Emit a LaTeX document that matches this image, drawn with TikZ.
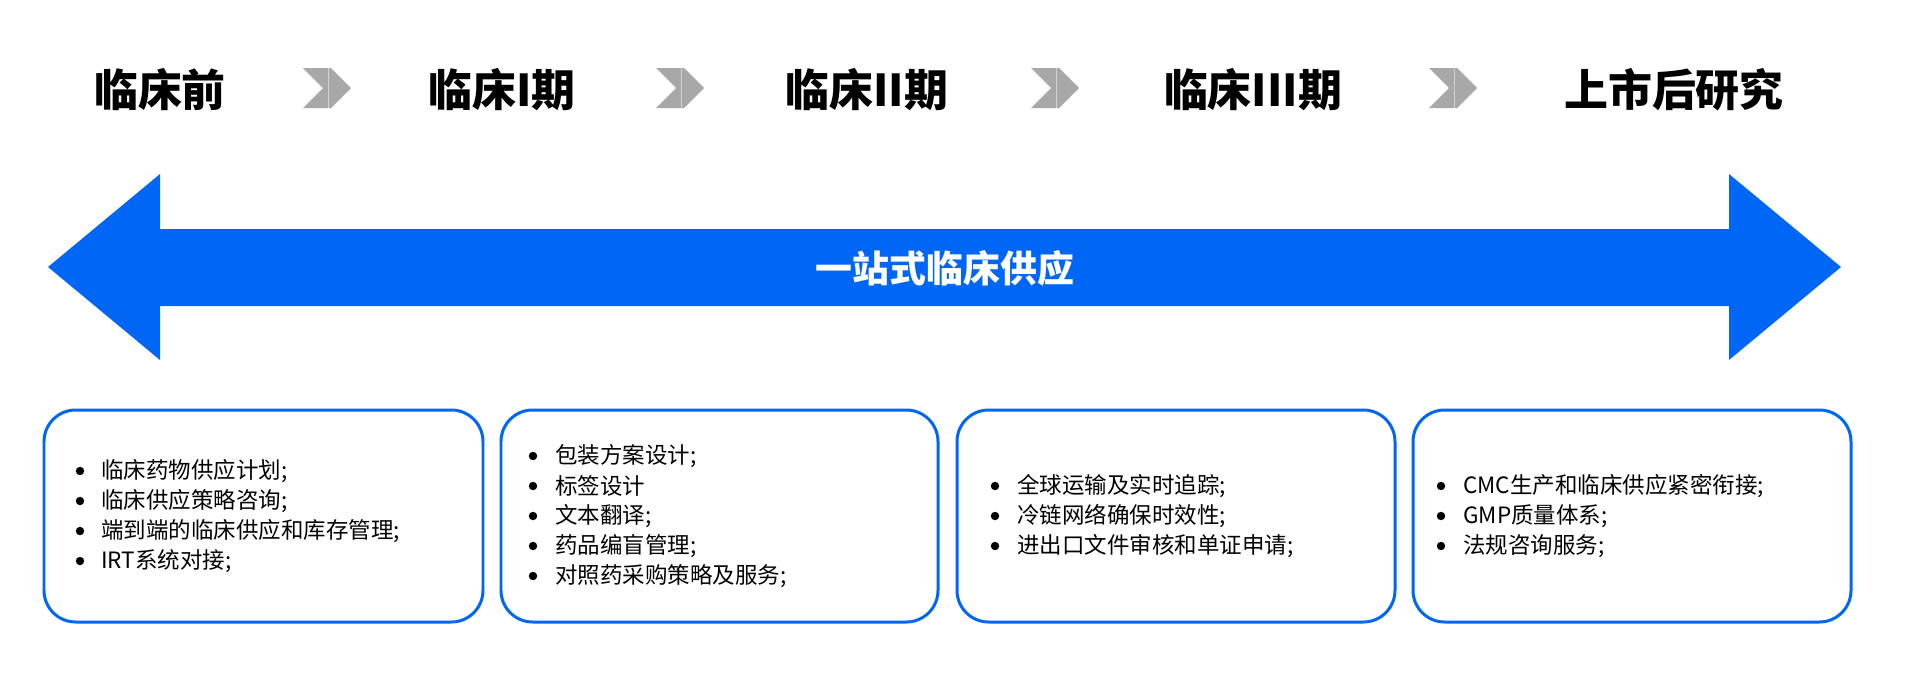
\documentclass[tikz,border=0pt]{standalone}
\usepackage{fontspec}
\setmainfont{Noto Sans CJK SC}
\usetikzlibrary{arrows}
\definecolor{mainblue}{RGB}{0,102,245}
\definecolor{chevgray}{RGB}{168,168,168}

\begin{document}
\begin{tikzpicture}[line cap=round,line join=round,x=0.02cm,y=-0.02cm,
  stage/.style={inner sep=0pt,font=\bfseries\fontsize{25}{30}\selectfont},
  item/.style={anchor=west,inner sep=0pt,font=\fontsize{12.8}{15}\selectfont},
  card/.style={draw=mainblue,line width=1.7pt,rounded corners=18pt},
  chevron/.style={fill=chevgray}]

\useasboundingbox (0,0) rectangle (1920,680);

\node[stage] (pre) at (160,90) {临床前};
\node[stage] (ph1) at (502,90) {临床I期};
\node[stage] (ph2) at (867,90) {临床II期};
\node[stage] (ph3) at (1253,90) {临床III期};
\node[stage] (post) at (1674,90) {上市后研究};

\fill[chevron] (303,68) -- (331,68) -- (351,88) -- (331,108) -- (303,108) -- (323,88) -- cycle;
\fill[chevron] (656,68) -- (684,68) -- (704,88) -- (684,108) -- (656,108) -- (676,88) -- cycle;
\fill[chevron] (1031,68) -- (1059,68) -- (1079,88) -- (1059,108) -- (1031,108) -- (1051,88) -- cycle;
\fill[chevron] (1429,68) -- (1457,68) -- (1477,88) -- (1457,108) -- (1429,108) -- (1449,88) -- cycle;
\draw[white,opacity=0.5,line width=0.4pt] (328,68) -- (328,108) (681,68) -- (681,108) (1056,68) -- (1056,108) (1454,68) -- (1454,108);

\fill[mainblue] (48,267) -- (160,174) -- (160,229) -- (1729,229) -- (1729,174) -- (1841,267) -- (1729,360) -- (1729,306) -- (160,306) -- (160,360) -- cycle;
\node[text=white,font=\bfseries\fontsize{21}{25}\selectfont] (supply) at (945,268) {一站式临床供应};

\draw[card] (44,410) rectangle (483,622);
\draw[card] (501,410) rectangle (938,622);
\draw[card] (957,410) rectangle (1395,622);
\draw[card] (1413,410) rectangle (1851,622);

\node[item] (a1) at (101,471) {临床药物供应计划;};
\node[item] (a2) at (101,501) {临床供应策略咨询;};
\node[item] (a3) at (101,531) {端到端的临床供应和库存管理;};
\node[item] (a4) at (101,561) {IRT系统对接;};
\node[item] (b1) at (555,456) {包装方案设计;};
\node[item] (b2) at (555,486) {标签设计};
\node[item] (b3) at (555,516) {文本翻译;};
\node[item] (b4) at (555,546) {药品编盲管理;};
\node[item] (b5) at (555,576) {对照药采购策略及服务;};
\node[item] (c1) at (1017,486) {全球运输及实时追踪;};
\node[item] (c2) at (1017,516) {冷链网络确保时效性;};
\node[item] (c3) at (1017,546) {进出口文件审核和单证申请;};
\node[item] (d1) at (1463,486) {CMC生产和临床供应紧密衔接;};
\node[item] (d2) at (1463,516) {GMP质量体系;};
\node[item] (d3) at (1463,546) {法规咨询服务;};

\fill (80,471) circle (2.4pt);
\fill (80,501) circle (2.4pt);
\fill (80,531) circle (2.4pt);
\fill (80,561) circle (2.4pt);
\fill (533,456) circle (2.4pt);
\fill (533,486) circle (2.4pt);
\fill (533,516) circle (2.4pt);
\fill (533,546) circle (2.4pt);
\fill (533,576) circle (2.4pt);
\fill (995,486) circle (2.4pt);
\fill (995,516) circle (2.4pt);
\fill (995,546) circle (2.4pt);
\fill (1441,486) circle (2.4pt);
\fill (1441,516) circle (2.4pt);
\fill (1441,546) circle (2.4pt);
\end{tikzpicture}
\end{document}
